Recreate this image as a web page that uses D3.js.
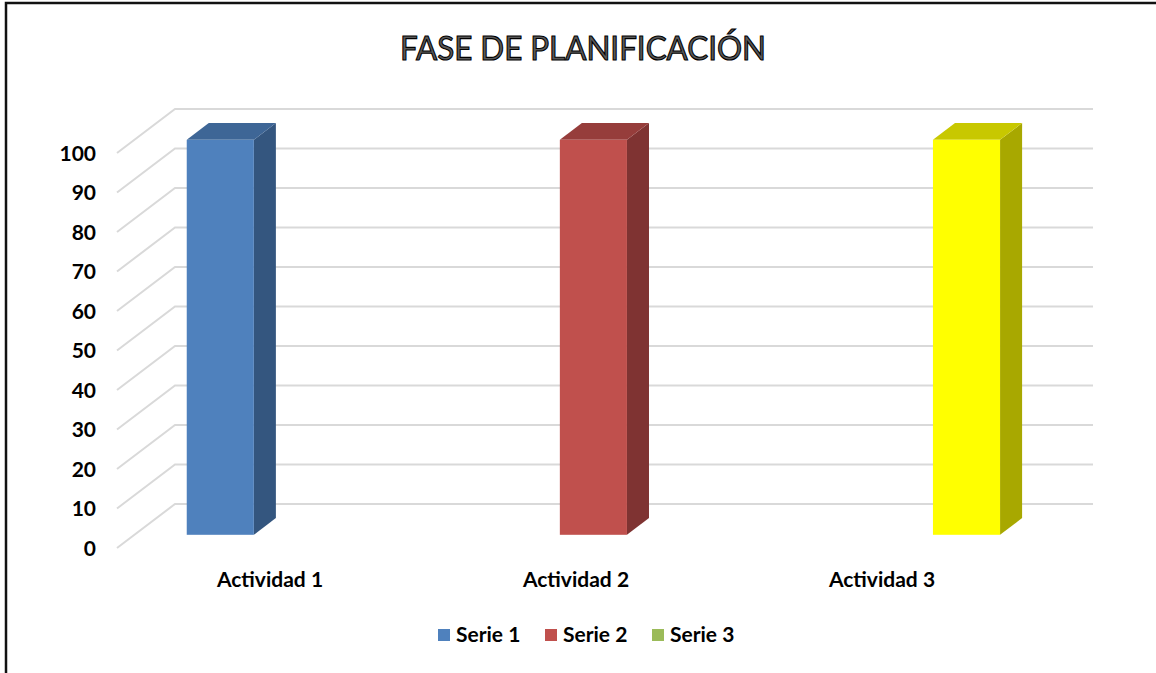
<html>
<head>
<meta charset="utf-8">
<title>Fase de planificación</title>
<script src="https://cdnjs.cloudflare.com/ajax/libs/d3/7.8.5/d3.min.js"></script>
<style>
  body { margin: 0; background: #fff; }
  text { font-family: Lato, "Open Sans", sans-serif; }
</style>
</head>
<body>
<div id="chart"></div>
<script>
  // data
  const categories = ['Actividad 1', 'Actividad 2', 'Actividad 3'];
  const seriesNames = ['Serie 1', 'Serie 2', 'Serie 3'];
  const serie1 = [100, 0, 0];
  const serie2 = [0, 100, 0];
  const serie3 = [0, 0, 100];
  const yTicks = [0, 10, 20, 30, 40, 50, 60, 70, 80, 90, 100];

  const seriesValues = [serie1, serie2, serie3];
  // front / top / side shades, legend colour
  const shades = [
    { front: '#4f81bd', top: '#3e6696', side: '#34567f', legend: '#4f81bd' },
    { front: '#c0504d', top: '#963d3b', side: '#7f3332', legend: '#c0504d' },
    { front: '#ffff00', top: '#c8c800', side: '#a8a800', legend: '#9bbb59' }
  ];

  const W = 1156, H = 673;
  const depthX = 58, depthY = -44;      // full floor depth
  const barD0 = 0.3, barD1 = 0.68;      // bar front/back as fraction of depth

  const svg = d3.select('#chart').append('svg')
    .attr('width', W).attr('height', H);

  // chart border
  svg.append('path')
    .attr('d', `M6,${H} L6,3 L${W},3`)
    .attr('fill', 'none').attr('stroke', '#111').attr('stroke-width', 2.5);

  // title
  svg.append('text')
    .attr('x', 583).attr('y', 60)
    .attr('text-anchor', 'middle')
    .attr('font-size', 33)
    .attr('fill', '#595959').attr('stroke', '#000').attr('stroke-width', 1.1)
    .attr('textLength', 366).attr('lengthAdjust', 'spacingAndGlyphs')
    .text('FASE DE PLANIFICACIÓN');

  const x = d3.scaleBand().domain(categories).range([117, 1035]);
  const xs = d3.scaleBand().domain(seriesNames).range([0, x.bandwidth()]).paddingOuter(0.78).paddingInner(0);
  const y = d3.scaleLinear().domain([0, 100]).range([548, 153]);

  // gridlines: side wall diagonal + back wall
  const grid = svg.append('g').attr('stroke', '#d9d9d9').attr('stroke-width', 2).attr('fill', 'none');
  grid.selectAll('path').data(yTicks).join('path')
    .attr('d', d => `M${x.range()[0]},${y(d)} L${x.range()[0] + depthX},${y(d) + depthY} L${x.range()[1] + depthX},${y(d) + depthY}`);

  // y labels
  const yAxis = svg.append('g')
    .attr('transform', 'translate(96,0)')
    .call(d3.axisLeft(y).tickValues(yTicks).tickSize(0).tickPadding(0));
  yAxis.select('.domain').remove();
  yAxis.selectAll('text')
    .attr('font-family', 'Lato, sans-serif')
    .attr('font-weight', 'bold').attr('font-size', 21).attr('fill', '#000')
    .attr('dy', '0.35em');

  // bars
  const bars = [];
  seriesValues.forEach((vals, si) => {
    vals.forEach((v, ci) => {
      if (v > 0) bars.push({ si, ci, v });
    });
  });

  const g = svg.append('g');
  bars.forEach(b => {
    const x0 = x(categories[b.ci]) + xs(seriesNames[b.si]) + barD0 * depthX;
    const x1 = x0 + xs.bandwidth();
    const yb = y(0) + barD0 * depthY;
    const yt = y(b.v) + barD0 * depthY;
    const ddx = (barD1 - barD0) * depthX, ddy = (barD1 - barD0) * depthY;
    const c = shades[b.si];
    // side
    g.append('path')
      .attr('d', `M${x1},${yt} L${x1 + ddx},${yt + ddy} L${x1 + ddx},${yb + ddy} L${x1},${yb} Z`)
      .attr('fill', c.side);
    // top
    g.append('path')
      .attr('d', `M${x0},${yt} L${x0 + ddx},${yt + ddy} L${x1 + ddx},${yt + ddy} L${x1},${yt} Z`)
      .attr('fill', c.top);
    // front
    g.append('rect')
      .attr('x', x0).attr('y', yt)
      .attr('width', x1 - x0).attr('height', yb - yt)
      .attr('fill', c.front);
  });

  // category labels
  svg.append('g').selectAll('text').data(categories).join('text')
    .attr('x', d => x(d) + x.bandwidth() / 2)
    .attr('y', 587)
    .attr('text-anchor', 'middle')
    .attr('font-weight', 'bold').attr('font-size', 21)
    .text(d => d);

  // legend
  const legendX = [438, 545, 652];
  const legend = svg.append('g').selectAll('g').data(seriesNames).join('g')
    .attr('transform', (d, i) => `translate(${legendX[i]}, 629)`);
  legend.append('rect')
    .attr('width', 12).attr('height', 12)
    .attr('fill', (d, i) => shades[i].legend);
  legend.append('text')
    .attr('x', 18).attr('y', 13)
    .attr('font-weight', 'bold').attr('font-size', 21)
    .text(d => d);
</script>
</body>
</html>
